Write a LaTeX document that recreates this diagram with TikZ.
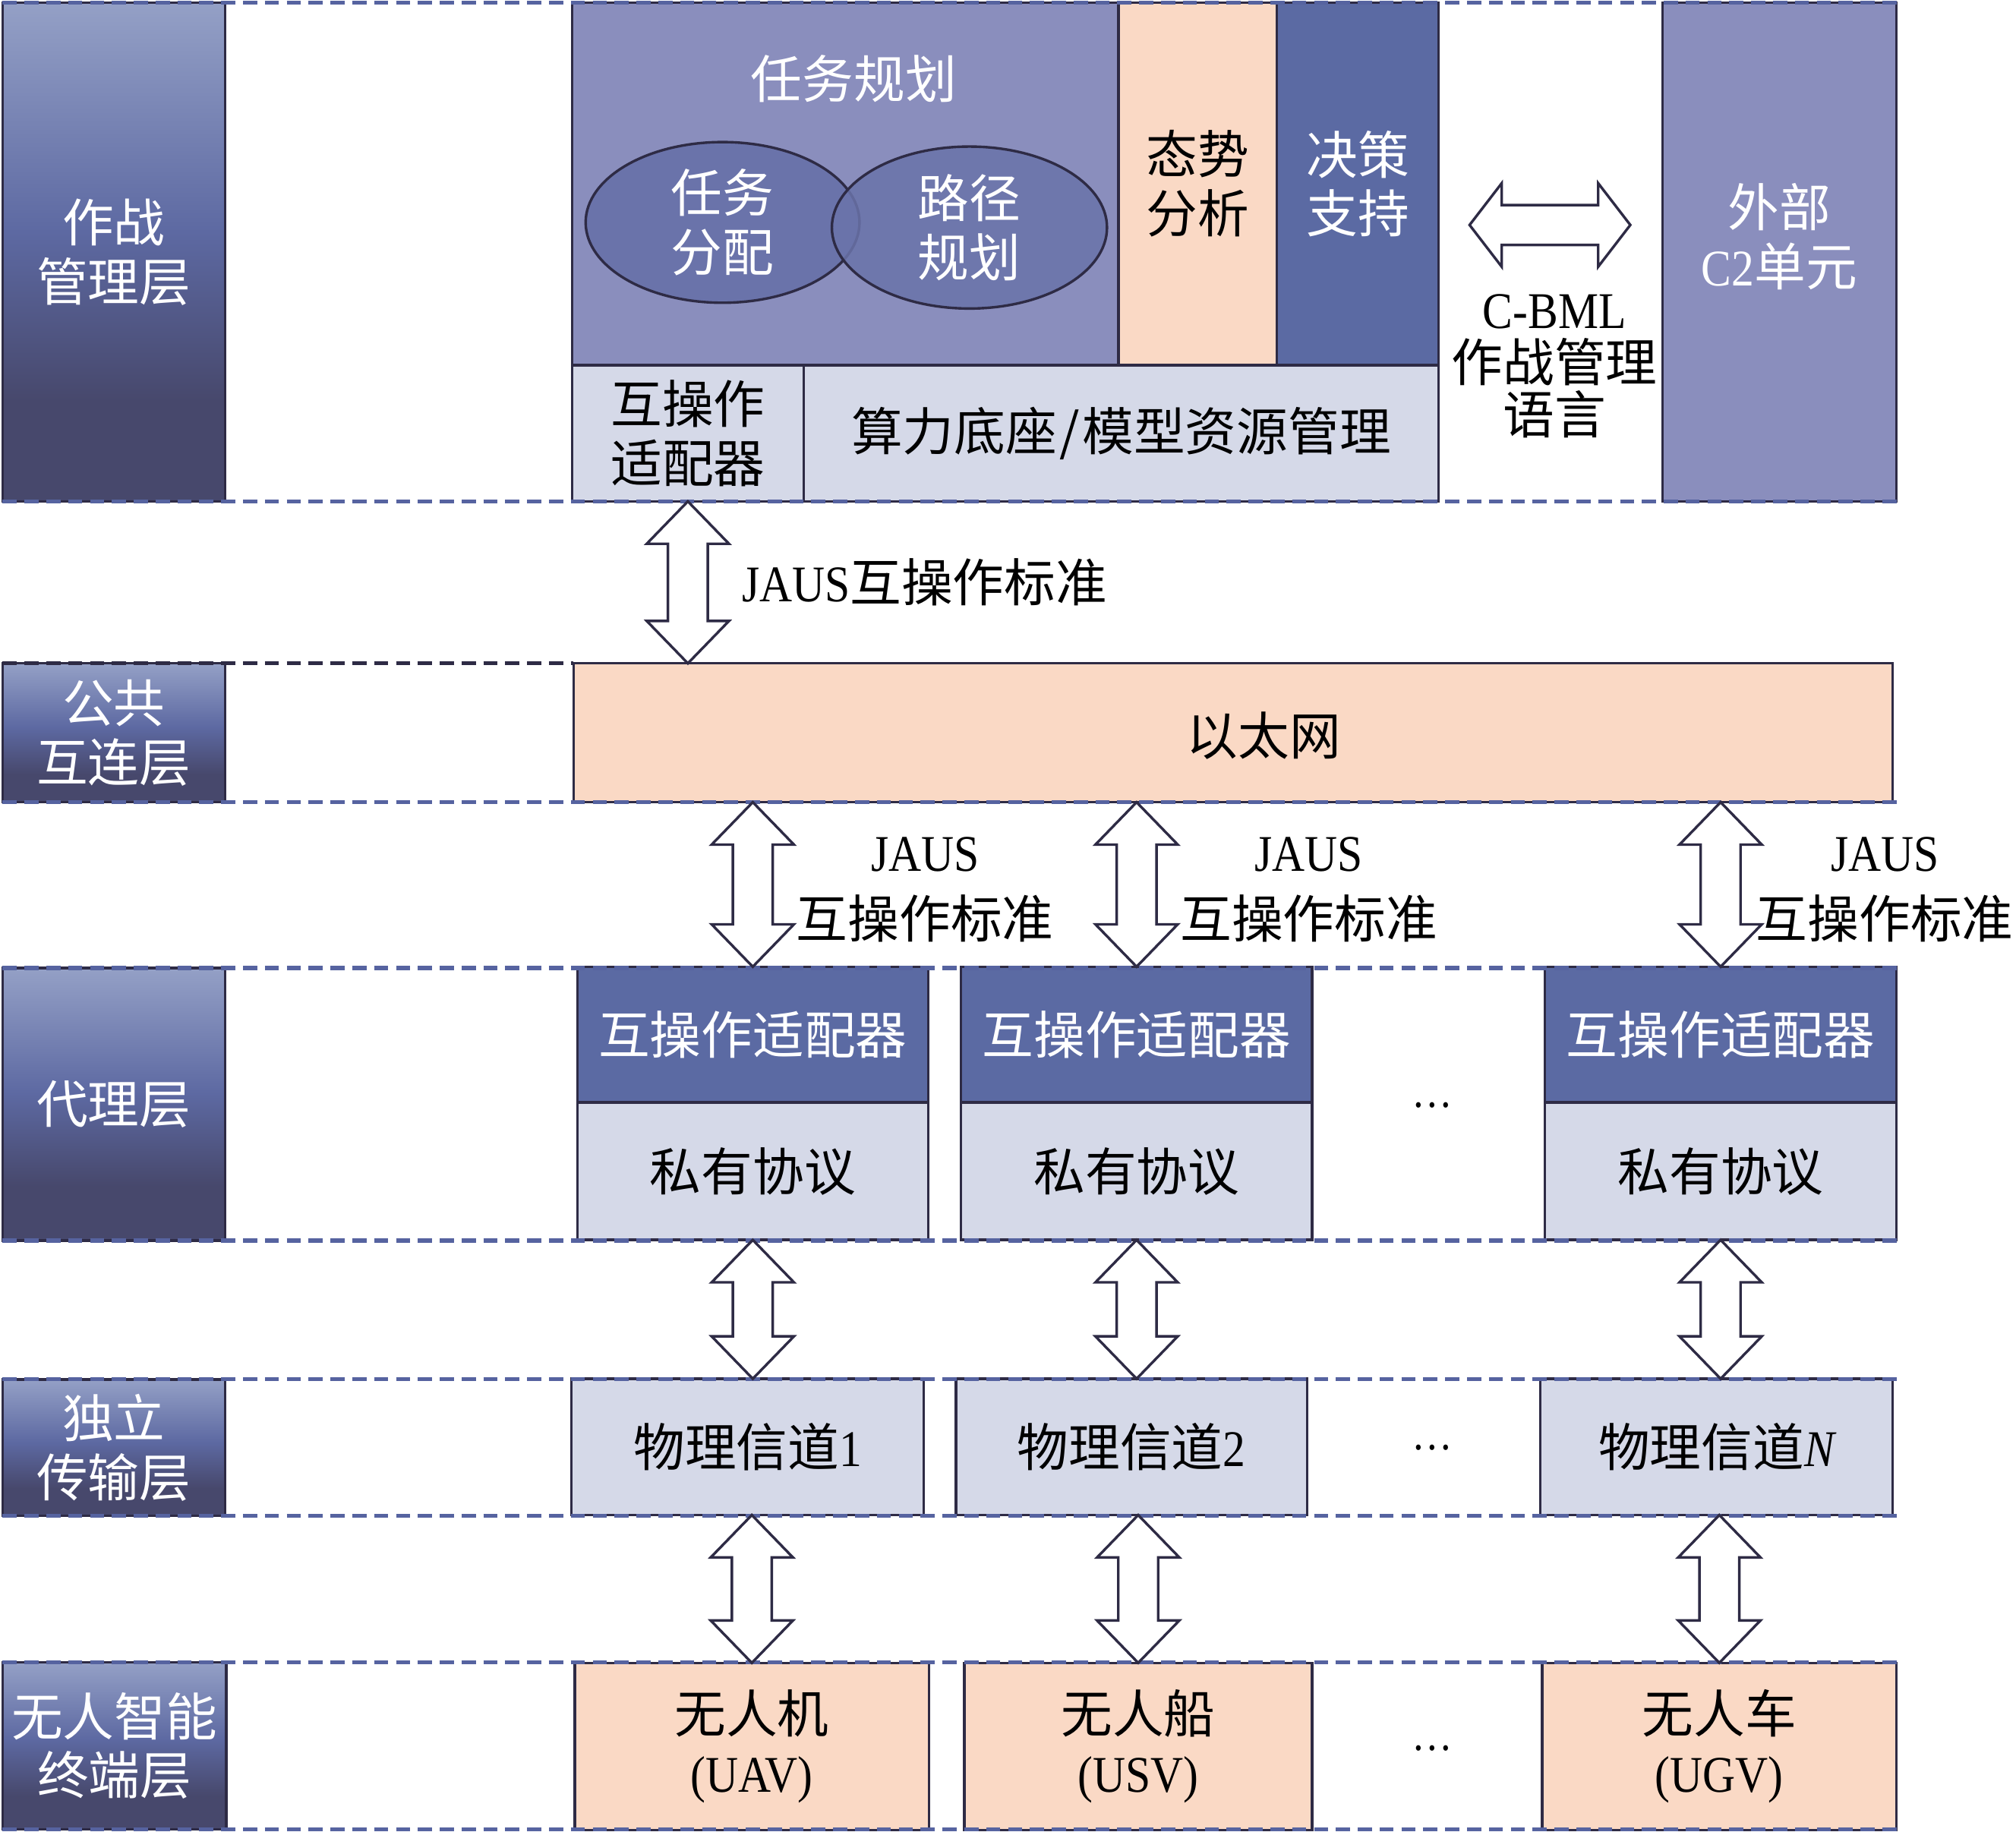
\documentclass[tikz,border=0pt]{standalone}
\usepackage{fontspec}
\setmainfont{Noto Sans CJK SC}
\newfontfamily\lat[FakeStretch=0.88]{Liberation Serif}
\usetikzlibrary{shapes.geometric,calc}

\definecolor{edgecol}{HTML}{2E2B45}
\definecolor{planblue}{HTML}{8A8EBD}
\definecolor{ellblue}{HTML}{6A73AA}
\definecolor{deepblue}{HTML}{5B6AA3}
\definecolor{peach}{HTML}{FAD9C5}
\definecolor{paleblue}{HTML}{D5D9E8}
\definecolor{dashcol}{HTML}{5663A0}
\definecolor{layertop}{HTML}{94A0C6}
\definecolor{layermid}{HTML}{5D69A2}
\definecolor{layerbot}{HTML}{47486C}

\pgfdeclareverticalshading{layershade}{100bp}{color(0bp)=(layerbot); color(25bp)=(layerbot);
  color(35bp)=(layerbot); color(52bp)=(layermid); color(75bp)=(layertop); color(100bp)=(layertop)}

\tikzset{
  every node/.style={font=\fontsize{40}{46}\selectfont, inner sep=0pt, outer sep=0pt},
  box/.style={draw=edgecol, line width=2pt, anchor=north west, align=center},
  layerbox/.style={box, shade, shading=layershade, text=white},
  planbox/.style={box, fill=planblue, text=white},
  deepbox/.style={box, fill=deepblue, text=white},
  peachbox/.style={box, fill=peach},
  palebox/.style={box, fill=paleblue},
  subtask/.style={ellipse, draw=edgecol, line width=2pt, fill=ellblue, text=white, align=center},
  levelline/.style={dashcol, line width=3pt, dash pattern=on 11pt off 6pt},
  blockarrow/.style={draw=edgecol, fill=white, line width=2pt, line join=miter},
  stdlabel/.style={font=\fontsize{40}{52}\selectfont, align=center},
}

% hollow double arrows, upper end first / left end first
\newcommand{\blockvarrow}[2]{%
  \draw[blockarrow] let \p1=(#1), \p2=(#2) in
    (\x1,\y1) -- (\x1+32pt,\y1-33pt) -- (\x1+15.5pt,\y1-33pt) -- (\x1+15.5pt,\y2+33pt)
    -- (\x1+32pt,\y2+33pt) -- (\x1,\y2) -- (\x1-32pt,\y2+33pt) -- (\x1-15.5pt,\y2+33pt)
    -- (\x1-15.5pt,\y1-33pt) -- (\x1-32pt,\y1-33pt) -- cycle;}
\newcommand{\blockharrow}[2]{%
  \draw[blockarrow] let \p1=(#1), \p2=(#2) in
    (\x1,\y1) -- (\x1+25pt,\y1+32.5pt) -- (\x1+25pt,\y1+15.5pt) -- (\x2-25pt,\y1+15.5pt)
    -- (\x2-25pt,\y1+32.5pt) -- (\x2,\y1) -- (\x2-25pt,\y1-32.5pt) -- (\x2-25pt,\y1-15.5pt)
    -- (\x1+25pt,\y1-15.5pt) -- (\x1+25pt,\y1-32.5pt) -- cycle;}

\begin{document}
\begin{tikzpicture}[x=1pt,y=-1pt]
  \useasboundingbox (0,0) rectangle (1568,1425);

  % layer labels
  \node[layerbox, minimum width=173pt, minimum height=388pt] (oplayer) at (2,2) {作战\\管理层};
  \node[layerbox, minimum width=173pt, minimum height=108pt] (netlayer) at (2,516) {公共\\互连层};
  \node[layerbox, minimum width=173pt, minimum height=212pt] (proxylayer) at (2,753) {代理层};
  \node[layerbox, minimum width=173pt, minimum height=106pt] (translayer) at (2,1073) {独立\\传输层};
  \node[layerbox, minimum width=174pt, minimum height=130pt] (termlayer) at (2,1293) {无人智能\\终端层};

  % combat management
  \node[planbox, minimum width=425pt, minimum height=282pt] (plan) at (445,2) {};
  \node[text=white] (plantitle) at (664,61) {任务规划};
  \node[subtask, minimum width=213pt, minimum height=125pt] (alloc) at (562,173) {任务\\分配};
  \node[subtask, minimum width=214pt, minimum height=126pt, fill opacity=0.85, text opacity=1] (route) at (754,177) {路径\\规划};
  \node[peachbox, minimum width=123pt, minimum height=282pt] (situ) at (870,2) {态势\\分析};
  \node[deepbox, minimum width=126pt, minimum height=282pt] (decide) at (993,2) {决策\\支持};
  \node[palebox, minimum width=180pt, minimum height=106pt] (adapt) at (445,284) {互操作\\适配器};
  \node[palebox, minimum width=494pt, minimum height=106pt] (compute) at (625,284) {算力底座\hspace{2pt}/\hspace{2pt}模型资源管理};
  \node[planbox, minimum width=182pt, minimum height=388pt] (ext) at (1293,2) {};
  \node[text=white, align=center] (extlabel) at (1384,184) {外部\\{\lat C2}单元};
  \node[font=\fontsize{40}{41}\selectfont, align=center] (cbml) at (1209,285) {{\lat C-BML}\\作战管理\\语言};

  % ethernet
  \node[peachbox, minimum width=1026pt, minimum height=108pt] (eth) at (446,516) {};
  \node (ethlabel) at (983,572) {以太网};

  % proxies
  \node[deepbox, minimum width=273pt, minimum height=105.5pt] (pa1) at (449,752) {互操作适配器};
  \node[palebox, minimum width=273pt, minimum height=107pt] (pp1) at (449,857.5) {私有协议};
  \node[deepbox, minimum width=273pt, minimum height=105.5pt] (pa2) at (747.5,752) {互操作适配器};
  \node[palebox, minimum width=273pt, minimum height=107pt] (pp2) at (747.5,857.5) {私有协议};
  \node[deepbox, minimum width=273.5pt, minimum height=105.5pt] (pa3) at (1201.5,752) {互操作适配器};
  \node[palebox, minimum width=273.5pt, minimum height=107pt] (pp3) at (1201.5,857.5) {私有协议};

  % channels
  \node[palebox, minimum width=274pt, minimum height=106pt] (ch1) at (444.5,1072.5) {物理信道{\lat 1}};
  \node[palebox, minimum width=273pt, minimum height=106pt] (ch2) at (743.5,1072.5) {物理信道{\lat 2}};
  \node[palebox, minimum width=274pt, minimum height=106pt] (ch3) at (1198,1072.5) {物理信道{\lat\itshape N}};

  % terminals
  \node[peachbox, minimum width=275.5pt, minimum height=130pt] (t1) at (447,1293.5) {无人机\\{\lat (UAV)}};
  \node[peachbox, minimum width=270.5pt, minimum height=130pt] (t2) at (750,1293.5) {无人船\\{\lat (USV)}};
  \node[peachbox, minimum width=275.5pt, minimum height=130pt] (t3) at (1199.5,1293.5) {无人车\\{\lat (UGV)}};

  \node[font=\lat\fontsize{36}{40}\selectfont] (dots1) at (1114,860) {…};
  \node[font=\lat\fontsize{36}{40}\selectfont] (dots2) at (1114,1126) {…};
  \node[font=\lat\fontsize{36}{40}\selectfont] (dots3) at (1114,1360) {…};

  % level lines
  \draw[levelline] (oplayer.north west) -- (oplayer.north west -| ext.east);
  \draw[levelline] (oplayer.south west) -- (oplayer.south west -| ext.east);
  \draw[levelline, edgecol] (netlayer.north west) -- (eth.north west);
  \draw[levelline] (netlayer.south west) -- (netlayer.south west -| ext.east);
  \draw[levelline] (proxylayer.north west) -- (proxylayer.north west -| ext.east);
  \draw[levelline] (proxylayer.south west) -- (proxylayer.south west -| ext.east);
  \draw[levelline] (translayer.north west) -- (translayer.north west -| ext.east);
  \draw[levelline] (translayer.south west) -- (translayer.south west -| ext.east);
  \draw[levelline] (termlayer.north west) -- (termlayer.north west -| ext.east);
  \draw[levelline] (termlayer.south west) -- (termlayer.south west -| ext.east);

  % links
  \coordinate (cbmlwest) at (1143,175);
  \coordinate (cbmleast) at (1268,175);
  \blockharrow{cbmlwest}{cbmleast}
  \blockvarrow{adapt.south}{adapt.south |- eth.north}
  \node[anchor=west] (jaus0) at (577,453) {{\lat JAUS}互操作标准};

  \blockvarrow{eth.south -| pa1.north}{pa1.north}
  \blockvarrow{eth.south -| pa2.north}{pa2.north}
  \blockvarrow{eth.south -| pa3.north}{pa3.north}
  \node[stdlabel] (jaus1) at (719.5,692) {{\lat JAUS}\\互操作标准};
  \node[stdlabel] (jaus2) at (1018,692) {{\lat JAUS}\\互操作标准};
  \node[stdlabel] (jaus3) at (1466,692) {{\lat JAUS}\\互操作标准};

  \blockvarrow{pp1.south}{pp1.south |- ch1.north}
  \blockvarrow{pp2.south}{pp2.south |- ch2.north}
  \blockvarrow{pp3.south}{pp3.south |- ch3.north}

  \blockvarrow{ch1.south -| t1.north}{t1.north}
  \blockvarrow{ch2.south -| t2.north}{t2.north}
  \blockvarrow{ch3.south -| t3.north}{t3.north}
\end{tikzpicture}
\end{document}
